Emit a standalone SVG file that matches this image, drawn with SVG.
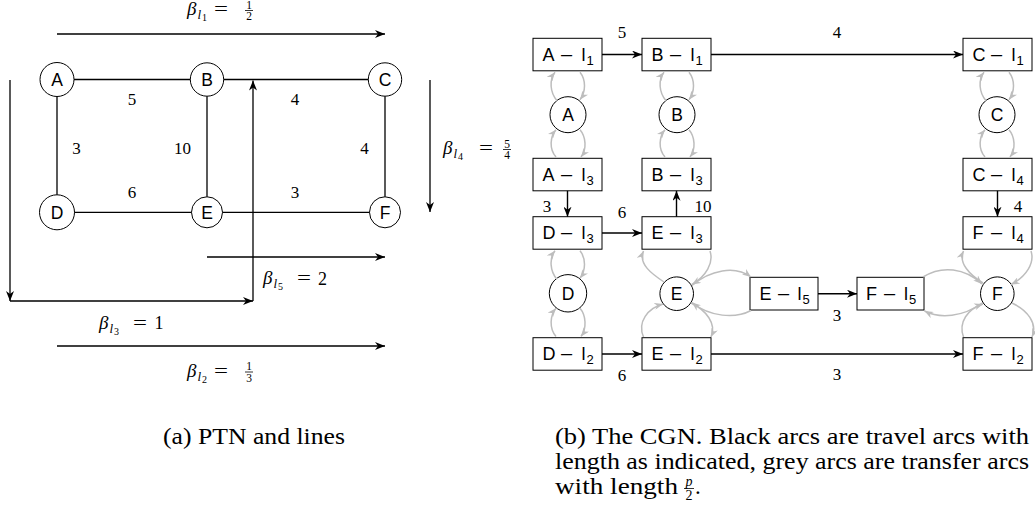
<svg xmlns="http://www.w3.org/2000/svg" width="1035" height="509" viewBox="0 0 1035 509">
<style>
.bg{fill:#fff}
.box{fill:#fff;stroke:#000;stroke-width:1}
.circ{fill:#fff;stroke:#000;stroke-width:1}
.sans{font-family:"Liberation Sans",Arial,sans-serif;font-size:18px;fill:#000}
.ltr{font-family:"Liberation Sans",Arial,sans-serif;font-size:17.5px;fill:#000;text-anchor:middle}
.num{font-family:"Liberation Serif","Times New Roman",serif;font-size:17px;fill:#000;text-anchor:middle}
.math{font-family:"Liberation Serif","Times New Roman",serif;fill:#000}
.it{font-style:italic}
.cap{font-family:"Liberation Serif","Times New Roman",serif;font-size:23px;fill:#000}
.edge{stroke:#000;stroke-width:1.3;fill:none}
.line{stroke:#000;stroke-width:1.3;fill:none;marker-end:url(#ah)}
.travel{stroke:#000;stroke-width:1.4;fill:none;marker-end:url(#ah)}
.transfer{stroke:#bdbdbd;stroke-width:1.5;fill:none;marker-end:url(#gh)}
.bar{stroke:#000;stroke-width:0.8}
</style>
<defs>
<marker id="ah" viewBox="0 0 10 8" refX="10" refY="4" markerWidth="10" markerHeight="8" markerUnits="userSpaceOnUse" orient="auto"><path d="M0,0 L10,4 L0,8 L3,4 Z" fill="#000"/></marker>
<marker id="gh" viewBox="0 0 10 8" refX="10" refY="4" markerWidth="9" markerHeight="7" markerUnits="userSpaceOnUse" orient="auto"><path d="M0,0 L10,4 L0,8 L3,4 Z" fill="#bdbdbd"/></marker>
</defs>
<rect class="bg" x="0" y="0" width="1035" height="509"/>

<!-- (a) PTN nodes -->
<g id="ptn-A"><circle class="circ" cx="57" cy="79.5" r="17"/><text class="ltr" x="57" y="85.8" font-size="17">A</text></g>
<g id="ptn-B"><circle class="circ" cx="207" cy="79.5" r="16.7"/><text class="ltr" x="207" y="85.8" font-size="17">B</text></g>
<g id="ptn-C"><circle class="circ" cx="385" cy="79.5" r="16.7"/><text class="ltr" x="385" y="85.8" font-size="17">C</text></g>
<g id="ptn-D"><circle class="circ" cx="57" cy="212.3" r="17.5"/><text class="ltr" x="57" y="218.6" font-size="17">D</text></g>
<g id="ptn-E"><circle class="circ" cx="207" cy="212.3" r="15.5"/><text class="ltr" x="207" y="218.6" font-size="17">E</text></g>
<g id="ptn-F"><circle class="circ" cx="385" cy="212.3" r="15.5"/><text class="ltr" x="385" y="218.6" font-size="17">F</text></g>

<!-- (b) CGN nodes -->
<g id="A-l1"><rect class="box" x="533" y="38.3" width="69" height="32.5"/><text class="sans" y="60.5"><tspan x="542.5">A</tspan><tspan x="561" font-size="20">–</tspan><tspan x="581.5">l</tspan><tspan x="586.5" dy="4" font-size="13">1</tspan></text></g>
<g id="B-l1"><rect class="box" x="642" y="38.3" width="69" height="32.5"/><text class="sans" y="60.5"><tspan x="651.5">B</tspan><tspan x="670" font-size="20">–</tspan><tspan x="690.5">l</tspan><tspan x="695.5" dy="4" font-size="13">1</tspan></text></g>
<g id="C-l1"><rect class="box" x="963" y="38.3" width="69" height="32.5"/><text class="sans" y="60.5"><tspan x="972.5">C</tspan><tspan x="991" font-size="20">–</tspan><tspan x="1011.5">l</tspan><tspan x="1016.5" dy="4" font-size="13">1</tspan></text></g>
<g id="A"><circle class="circ" cx="568" cy="114.7" r="18"/><text class="ltr" x="568" y="121">A</text></g>
<g id="B"><circle class="circ" cx="677" cy="114.7" r="18"/><text class="ltr" x="677" y="121">B</text></g>
<g id="C"><circle class="circ" cx="997" cy="114.7" r="18"/><text class="ltr" x="997" y="121">C</text></g>
<g id="A-l3"><rect class="box" x="533" y="158.3" width="69" height="32.5"/><text class="sans" y="180.5"><tspan x="542.5">A</tspan><tspan x="561" font-size="20">–</tspan><tspan x="581.5">l</tspan><tspan x="586.5" dy="4" font-size="13">3</tspan></text></g>
<g id="B-l3"><rect class="box" x="642" y="158.3" width="69" height="32.5"/><text class="sans" y="180.5"><tspan x="651.5">B</tspan><tspan x="670" font-size="20">–</tspan><tspan x="690.5">l</tspan><tspan x="695.5" dy="4" font-size="13">3</tspan></text></g>
<g id="C-l4"><rect class="box" x="963" y="158.3" width="69" height="32.5"/><text class="sans" y="180.5"><tspan x="972.5">C</tspan><tspan x="991" font-size="20">–</tspan><tspan x="1011.5">l</tspan><tspan x="1016.5" dy="4" font-size="13">4</tspan></text></g>
<g id="D-l3"><rect class="box" x="533" y="216.7" width="69" height="32.5"/><text class="sans" y="238.9"><tspan x="542.5">D</tspan><tspan x="561" font-size="20">–</tspan><tspan x="581.5">l</tspan><tspan x="586.5" dy="4" font-size="13">3</tspan></text></g>
<g id="E-l3"><rect class="box" x="642" y="216.7" width="69" height="32.5"/><text class="sans" y="238.9"><tspan x="651.5">E</tspan><tspan x="670" font-size="20">–</tspan><tspan x="690.5">l</tspan><tspan x="695.5" dy="4" font-size="13">3</tspan></text></g>
<g id="F-l4"><rect class="box" x="963" y="216.7" width="69" height="32.5"/><text class="sans" y="238.9"><tspan x="972.5">F</tspan><tspan x="991" font-size="20">–</tspan><tspan x="1011.5">l</tspan><tspan x="1016.5" dy="4" font-size="13">4</tspan></text></g>
<g id="D"><circle class="circ" cx="568" cy="293.3" r="18.7"/><text class="ltr" x="568" y="299.6">D</text></g>
<g id="E"><circle class="circ" cx="676.7" cy="293.7" r="16.8"/><text class="ltr" x="676.7" y="300">E</text></g>
<g id="E-l5"><rect class="box" x="750" y="277.3" width="68" height="32.7"/><text class="sans" y="299.6"><tspan x="759.5">E</tspan><tspan x="778" font-size="20">–</tspan><tspan x="797.5">l</tspan><tspan x="802.5" dy="4" font-size="13">5</tspan></text></g>
<g id="F-l5"><rect class="box" x="857" y="277.3" width="67" height="32.7"/><text class="sans" y="299.6"><tspan x="866">F</tspan><tspan x="884" font-size="20">–</tspan><tspan x="904">l</tspan><tspan x="909" dy="4" font-size="13">5</tspan></text></g>
<g id="F"><circle class="circ" cx="997.3" cy="293.7" r="16.8"/><text class="ltr" x="997.3" y="300">F</text></g>
<g id="D-l2"><rect class="box" x="533" y="337.7" width="69" height="32.5"/><text class="sans" y="359.9"><tspan x="542.5">D</tspan><tspan x="561" font-size="20">–</tspan><tspan x="581.5">l</tspan><tspan x="586.5" dy="4" font-size="13">2</tspan></text></g>
<g id="E-l2"><rect class="box" x="642" y="337.7" width="69" height="32.5"/><text class="sans" y="359.9"><tspan x="651.5">E</tspan><tspan x="670" font-size="20">–</tspan><tspan x="690.5">l</tspan><tspan x="695.5" dy="4" font-size="13">2</tspan></text></g>
<g id="F-l2"><rect class="box" x="963" y="337.7" width="69" height="32.5"/><text class="sans" y="359.9"><tspan x="972.5">F</tspan><tspan x="991" font-size="20">–</tspan><tspan x="1011.5">l</tspan><tspan x="1016.5" dy="4" font-size="13">2</tspan></text></g>

<g id="connectors">
  <!-- PTN edges -->
  <line class="edge" x1="74" y1="79.5" x2="190.3" y2="79.5"/>
  <line class="edge" x1="223.7" y1="79.5" x2="368.3" y2="79.5"/>
  <line class="edge" x1="57" y1="96.5" x2="57" y2="194.8"/>
  <line class="edge" x1="207" y1="96.2" x2="207" y2="196.8"/>
  <line class="edge" x1="385" y1="96.2" x2="385" y2="196.8"/>
  <line class="edge" x1="74.5" y1="212.3" x2="191.5" y2="212.3"/>
  <line class="edge" x1="222.5" y1="212.3" x2="369.5" y2="212.3"/>
  <!-- lines -->
  <line class="line" x1="57" y1="34" x2="385" y2="34"/>
  <line class="line" x1="430" y1="80" x2="430" y2="212"/>
  <line class="line" x1="10" y1="80" x2="10" y2="301"/>
  <line class="line" x1="10" y1="301" x2="253" y2="301"/>
  <line class="line" x1="253" y1="301" x2="253" y2="80.5"/>
  <line class="line" x1="207" y1="257" x2="385" y2="257"/>
  <line class="line" x1="57" y1="346" x2="385" y2="346"/>
  <!-- travel arcs -->
  <line class="travel" x1="602" y1="54.5" x2="642" y2="54.5"/>
  <line class="travel" x1="711" y1="54.5" x2="963" y2="54.5"/>
  <line class="travel" x1="567.5" y1="190.8" x2="567.5" y2="216.7"/>
  <line class="travel" x1="602" y1="233" x2="642" y2="233"/>
  <line class="travel" x1="676.5" y1="216.7" x2="676.5" y2="190.8"/>
  <line class="travel" x1="997.5" y1="190.8" x2="997.5" y2="216.7"/>
  <line class="travel" x1="818" y1="293.7" x2="857" y2="293.7"/>
  <line class="travel" x1="602" y1="354" x2="642" y2="354"/>
  <line class="travel" x1="711" y1="354" x2="963" y2="354"/>
  <!-- transfer arcs -->
  <path class="transfer" d="M557,100.7 C550,92.7 549,79.8 555,72.3"/>
  <path class="transfer" d="M580,72.3 C586,79.8 586,91.7 580,99.7"/>
  <path class="transfer" d="M556,157 C549,149.3 550,136.7 556,129.7"/>
  <path class="transfer" d="M580,129.7 C586,136.7 587,149.3 581,157"/>
  <path class="transfer" d="M666,100.7 C659,92.7 658,79.8 664,72.3"/>
  <path class="transfer" d="M689,72.3 C695,79.8 695,91.7 689,99.7"/>
  <path class="transfer" d="M665,157 C658,149.3 659,136.7 665,129.7"/>
  <path class="transfer" d="M689,129.7 C695,136.7 696,149.3 690,157"/>
  <path class="transfer" d="M986,100.7 C979,92.7 978,79.8 984,72.3"/>
  <path class="transfer" d="M1009,72.3 C1015,79.8 1015,91.7 1009,99.7"/>
  <path class="transfer" d="M985,157 C978,149.3 979,136.7 985,129.7"/>
  <path class="transfer" d="M1009,129.7 C1015,136.7 1016,149.3 1010,157"/>
  <path class="transfer" d="M557,279.3 C550,271.3 549,258.3 555,250.8"/>
  <path class="transfer" d="M580,250.8 C586,258.3 586,270.3 580,278.3"/>
  <path class="transfer" d="M556,336.4 C549,328.7 550,315.3 556,308.3"/>
  <path class="transfer" d="M580,308.3 C586,315.3 587,328.7 581,336.4"/>
  <path class="transfer" d="M664,282 C652,274 638,264 643.5,251"/>
  <path class="transfer" d="M710,251 C714,263 706,276 692,284.5"/>
  <path class="transfer" d="M692,285.5 C710,270 735,265 751,277"/>
  <path class="transfer" d="M751,310.5 C735,319 710,317 692,302.5"/>
  <path class="transfer" d="M691,303 C706,310 717,324 711,337"/>
  <path class="transfer" d="M643.5,337 C637,322 648,308 663,304"/>
  <path class="transfer" d="M983,283 C970,275 958,263 963.5,251"/>
  <path class="transfer" d="M1031,251 C1035,263 1026,277 1011,284.5"/>
  <path class="transfer" d="M923,277 C942,265 965,268 982,284"/>
  <path class="transfer" d="M982,303 C963,317 940,319 924.5,311"/>
  <path class="transfer" d="M963.5,337 C958,322 968,309 983,304"/>
  <path class="transfer" d="M1012,303 C1027,310 1038,323 1032,337"/>
</g>

<!-- PTN edge labels -->
<g id="ptn-labels">
  <text class="num" x="132" y="105">5</text>
  <text class="num" x="295" y="105">4</text>
  <text class="num" x="76.5" y="154">3</text>
  <text class="num" x="182.5" y="154">10</text>
  <text class="num" x="364.5" y="154">4</text>
  <text class="num" x="132" y="198">6</text>
  <text class="num" x="295" y="198">3</text>
</g>

<!-- CGN arc labels -->
<g id="cgn-labels">
  <text class="num" x="622" y="38">5</text>
  <text class="num" x="837" y="38">4</text>
  <text class="num" x="547" y="212">3</text>
  <text class="num" x="622" y="218">6</text>
  <text class="num" x="703" y="212">10</text>
  <text class="num" x="1018" y="212">4</text>
  <text class="num" x="837" y="321">3</text>
  <text class="num" x="622" y="381">6</text>
  <text class="num" x="837" y="380">3</text>
</g>

<!-- line frequencies -->
<g id="beta-l1" class="math">
  <text x="187" y="15" font-size="19" class="it">β</text>
  <text x="197.5" y="18.5" font-size="13" class="it">l</text>
  <text x="202" y="20.5" font-size="10">1</text>
  <text x="214" y="15" font-size="18" textLength="14" lengthAdjust="spacingAndGlyphs">=</text>
  <text x="249" y="8.5" font-size="11.5" text-anchor="middle">1</text>
  <line class="bar" x1="245" y1="10.5" x2="253" y2="10.5"/>
  <text x="249" y="20" font-size="11.5" text-anchor="middle">2</text>
</g>
<g id="beta-l4" class="math">
  <text x="443" y="154" font-size="19" class="it">β</text>
  <text x="453.5" y="157.5" font-size="13" class="it">l</text>
  <text x="458" y="159.5" font-size="10">4</text>
  <text x="479" y="154" font-size="18" textLength="14" lengthAdjust="spacingAndGlyphs">=</text>
  <text x="507" y="147.5" font-size="11.5" text-anchor="middle">5</text>
  <line class="bar" x1="503" y1="149.5" x2="511" y2="149.5"/>
  <text x="507" y="159" font-size="11.5" text-anchor="middle">4</text>
</g>
<g id="beta-l5" class="math">
  <text x="263" y="284" font-size="19" class="it">β</text>
  <text x="273.5" y="287.5" font-size="13" class="it">l</text>
  <text x="278" y="289.5" font-size="10">5</text>
  <text x="297" y="284" font-size="18" textLength="14" lengthAdjust="spacingAndGlyphs">=</text>
  <text x="318" y="284.5" font-size="18">2</text>
</g>
<g id="beta-l3" class="math">
  <text x="99" y="329" font-size="19" class="it">β</text>
  <text x="109.5" y="332.5" font-size="13" class="it">l</text>
  <text x="114" y="334.5" font-size="10">3</text>
  <text x="133" y="329" font-size="18" textLength="14" lengthAdjust="spacingAndGlyphs">=</text>
  <text x="154.5" y="329" font-size="18">1</text>
</g>
<g id="beta-l2" class="math">
  <text x="187" y="377" font-size="19" class="it">β</text>
  <text x="197.5" y="380.5" font-size="13" class="it">l</text>
  <text x="202" y="382.5" font-size="10">2</text>
  <text x="214" y="377" font-size="18" textLength="14" lengthAdjust="spacingAndGlyphs">=</text>
  <text x="249" y="369.5" font-size="11.5" text-anchor="middle">1</text>
  <line class="bar" x1="245" y1="372" x2="253" y2="372"/>
  <text x="249" y="381.5" font-size="11.5" text-anchor="middle">3</text>
</g>

<!-- captions -->
<g id="captions">
  <text class="cap" x="163" y="444" textLength="182" lengthAdjust="spacingAndGlyphs">(a) PTN and lines</text>
  <text class="cap" x="555" y="444" textLength="474" lengthAdjust="spacingAndGlyphs">(b) The CGN. Black arcs are travel arcs with</text>
  <text class="cap" x="555" y="469" textLength="474" lengthAdjust="spacingAndGlyphs">length as indicated, grey arcs are transfer arcs</text>
  <text class="cap" x="555" y="494" textLength="123" lengthAdjust="spacingAndGlyphs">with length</text>
  <text class="math it" x="689" y="486" font-size="14" text-anchor="middle">p</text>
  <line class="bar" x1="684" y1="488.5" x2="694" y2="488.5"/>
  <text class="math" x="689" y="500" font-size="14" text-anchor="middle">2</text>
  <text class="cap" x="695" y="494">.</text>
</g>
</svg>
